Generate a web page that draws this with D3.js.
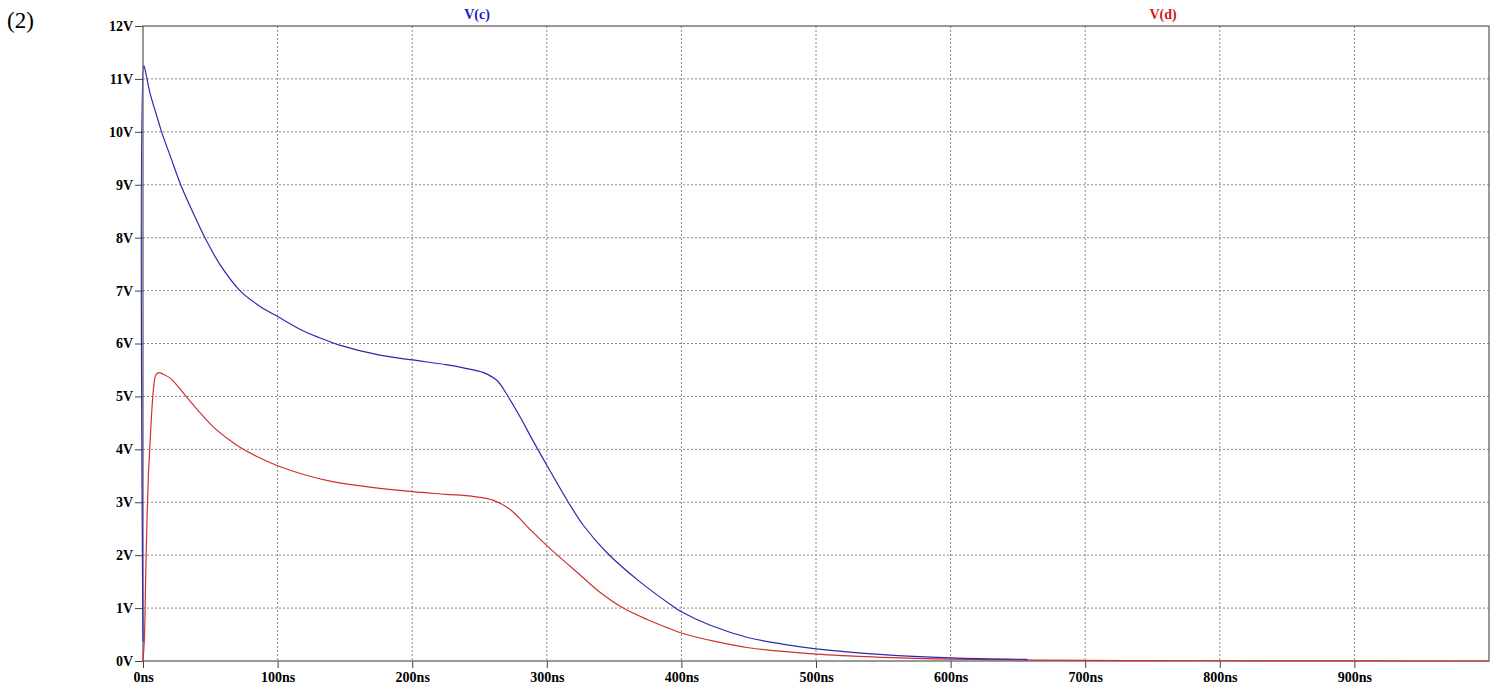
<!DOCTYPE html>
<html>
<head>
<meta charset="utf-8">
<script src="https://cdn.jsdelivr.net/npm/d3@7"></script>
<style>
  body { margin: 0; background: #fff; }
  text { font-family: "Liberation Serif", "Times New Roman", serif; }
</style>
</head>
<body>
<script>
// time in ns, voltage in V
var timeC = [0, 0.6, 2, 5.2, 10, 13.8, 21.3, 28, 37.4, 46, 57, 72, 87, 100, 116.6, 130, 146, 176, 200, 225, 238, 253, 263, 270, 280, 290, 300, 316, 327, 344.5, 369, 394, 400, 421, 450, 475, 500, 550, 600, 657];
var voltC = [0.37, 11.25, 11.12, 10.73, 10.32, 10.0, 9.47, 9.0, 8.46, 8.0, 7.5, 7.0, 6.7, 6.51, 6.27, 6.12, 5.97, 5.78, 5.69, 5.6, 5.54, 5.45, 5.3, 5.05, 4.62, 4.15, 3.7, 3.0, 2.57, 2.05, 1.5, 1.03, 0.93, 0.68, 0.44, 0.32, 0.23, 0.12, 0.06, 0.03];

var timeD = [0, 1, 2, 3, 4, 5, 6, 7, 8, 9, 10, 12, 15, 20, 25, 32, 40, 52, 64, 72, 85, 100, 120, 139, 170, 200, 225, 245, 260, 273, 287, 300, 325, 339.5, 356.8, 375, 391.5, 400, 425, 450, 500, 550, 600, 700, 800, 1000];
var voltD = [0, 0.4, 1.6, 2.7, 3.5, 4.0, 4.5, 4.9, 5.2, 5.37, 5.42, 5.45, 5.42, 5.35, 5.22, 5.0, 4.76, 4.43, 4.18, 4.04, 3.86, 3.69, 3.52, 3.4, 3.28, 3.2, 3.15, 3.11, 3.04, 2.86, 2.5, 2.18, 1.62, 1.3, 1.0, 0.78, 0.61, 0.53, 0.37, 0.25, 0.13, 0.07, 0.035, 0.01, 0.005, 0];

var xTicks = [0, 100, 200, 300, 400, 500, 600, 700, 800, 900];
var yTicks = [0, 1, 2, 3, 4, 5, 6, 7, 8, 9, 10, 11, 12];

var width = 1501, height = 690;
var plotLeft = 143, plotRight = 1489, plotTop = 26, plotBottom = 661;

var svg = d3.select("body").append("svg")
    .attr("width", width)
    .attr("height", height);

var x = d3.scaleLinear().domain([0, 1000]).range([plotLeft, plotRight]);
var y = d3.scaleLinear().domain([0, 12]).range([plotBottom, plotTop]);

//grid
svg.append("g").selectAll("line")
    .data(xTicks.slice(1))
    .join("line")
    .attr("x1", d => x(d)).attr("x2", d => x(d))
    .attr("y1", plotTop).attr("y2", plotBottom)
    .attr("stroke", "#8a8a8a").attr("stroke-dasharray", "2,2");
svg.append("g").selectAll("line")
    .data(yTicks.slice(1, -1))
    .join("line")
    .attr("x1", plotLeft).attr("x2", plotRight)
    .attr("y1", d => y(d)).attr("y2", d => y(d))
    .attr("stroke", "#8a8a8a").attr("stroke-dasharray", "2,2");

//axes
var xAxis = svg.append("g")
    .attr("transform", "translate(0," + plotBottom + ")")
    .call(d3.axisBottom(x).tickValues(xTicks).tickSize(7).tickPadding(4).tickFormat(d => d + "ns"));
var yAxis = svg.append("g")
    .attr("transform", "translate(" + plotLeft + ",0)")
    .call(d3.axisLeft(y).tickValues(yTicks).tickSize(8).tickPadding(2).tickFormat(d => d + "V"));

[xAxis, yAxis].forEach(function(a) {
    a.select(".domain").remove();
    a.selectAll("line").attr("stroke", "#444");
    a.selectAll("text")
        .attr("fill", "#000")
        .style("font-size", "14px")
        .style("font-weight", "bold")
        .style("font-family", "'Liberation Serif', serif");
});

//frame
svg.append("rect")
    .attr("x", plotLeft).attr("y", plotTop)
    .attr("width", plotRight - plotLeft).attr("height", plotBottom - plotTop)
    .attr("fill", "none").attr("stroke", "#555").attr("stroke-width", 1.2);

//smooth traces
var line = d3.line()
    .x(d => x(d[0]))
    .y(d => y(d[1]))
    .curve(d3.curveCatmullRom.alpha(0.5));

svg.append("path")
    .datum(d3.zip(timeD, voltD))
    .attr("d", line)
    .attr("fill", "none")
    .attr("stroke", "#d03030")
    .attr("stroke-width", 1.2);

svg.append("path")
    .datum(d3.zip(timeC, voltC))
    .attr("d", line)
    .attr("fill", "none")
    .attr("stroke", "#2a2ab0")
    .attr("stroke-width", 1.2);

//trace labels
svg.append("text")
    .attr("x", 477).attr("y", 19)
    .attr("text-anchor", "middle")
    .attr("fill", "#1a1acc")
    .style("font-size", "14px").style("font-weight", "bold")
    .text("V(c)");
svg.append("text")
    .attr("x", 1163).attr("y", 19)
    .attr("text-anchor", "middle")
    .attr("fill", "#d01818")
    .style("font-size", "14px").style("font-weight", "bold")
    .text("V(d)");

svg.append("text")
    .attr("x", 7).attr("y", 28)
    .attr("fill", "#000")
    .style("font-size", "23px")
    .text("(2)");
</script>
</body>
</html>
